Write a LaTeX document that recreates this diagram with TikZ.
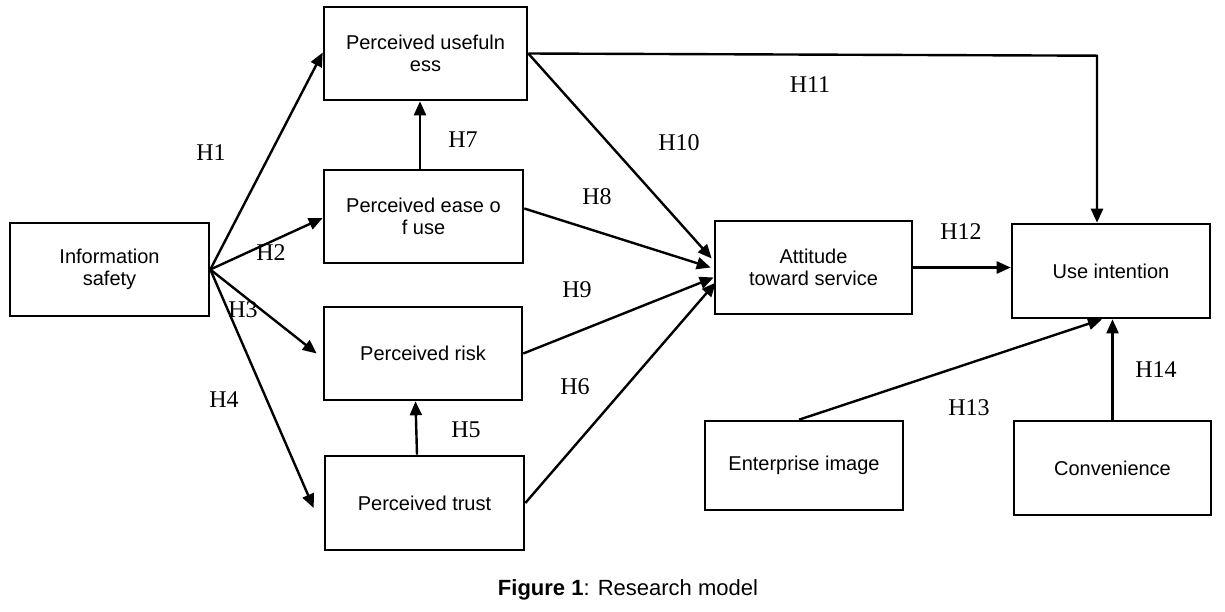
\documentclass[tikz,border=0pt]{standalone}
\usepackage{fontspec}
\setmainfont{Liberation Serif}
\newfontfamily\boxfont{Liberation Sans}
\usetikzlibrary{arrows.meta,calc}
\begin{document}
\begin{tikzpicture}[x=1pt,y=1pt,
  box/.style={draw,line width=2.6pt,inner sep=0pt,align=center,
    font=\boxfont\fontsize{20}{22}\selectfont},
  conn/.style={line width=2.4pt,-{Triangle[length=14pt,width=12pt]}},
  hlab/.style={font=\fontsize{24}{26}\selectfont,inner sep=0pt}]
\useasboundingbox (0,0) rectangle (1225,-611);
\fill[white] (0,0) rectangle (1225,-611);
% boxes
\node[box,minimum width=199pt,minimum height=93pt] (info) at (109.5,-269.5) {Information\\safety};
\node[box,minimum width=203pt,minimum height=93pt] (pu) at (425.5,-53.5) {Perceived usefuln\\ess};
\node[box,minimum width=199pt,minimum height=93pt] (peou) at (423.5,-216.5) {Perceived ease o\\f use};
\node[box,minimum width=198pt,minimum height=93pt] (risk) at (423,-353.5) {Perceived risk};
\node[box,minimum width=199pt,minimum height=94pt] (trust) at (424.5,-503) {Perceived trust};
\node[box,minimum width=197pt,minimum height=93pt] (att) at (813.5,-267.5) {Attitude\\toward service};
\node[box,minimum width=198pt,minimum height=94pt] (use) at (1111,-271) {Use intention};
\node[box,minimum width=198pt,minimum height=89pt] (ent) at (804,-465.5) {Enterprise image};
\node[box,minimum width=197pt,minimum height=94pt] (conv) at (1112.5,-468) {Convenience};
% connectors
\draw[conn] (info.east) -- ([yshift=1pt]pu.west);
\draw[conn] (info.east) -- ([yshift=-1.5pt]peou.west);
\draw[conn] (info.east) -- ([xshift=-6pt]risk.west);
\draw[conn] (info.east) -- ([xshift=-10pt,yshift=-5pt]trust.west);
\draw[conn] ([xshift=-7.5pt]trust.north) -- ([xshift=-7.5pt]risk.south);
\draw[conn] ([xshift=-3.5pt]peou.north) -- ([xshift=-5.5pt]pu.south);
\draw[conn] (pu.east) -- ([xshift=-2pt,yshift=9pt]att.west);
\draw[conn] ([yshift=8pt]peou.east) -- ([xshift=-3pt]att.west);
\draw[conn] (risk.east) -- ([xshift=0pt,yshift=-10pt]att.west);
\draw[conn] (trust.east) -- ([xshift=2pt,yshift=-15pt]att.west);
\draw[conn] (pu.east) -- ([xshift=-14pt,yshift=167pt]use.north) -- ([xshift=-14pt]use.north);
\draw[conn] (att.east) -- (att.east -| use.west);
\draw[conn] ([xshift=-5pt]ent.north) -- ([xshift=-9pt]use.south);
\draw[conn] (conv.north) -- (conv.north |- use.south);
% labels
\node[hlab] (h1) at (211,-153) {H1};
\node[hlab] (h2) at (271,-253) {H2};
\node[hlab] (h3) at (243,-310) {H3};
\node[hlab] (h4) at (224,-400) {H4};
\node[hlab] (h5) at (466,-430) {H5};
\node[hlab] (h6) at (575,-387) {H6};
\node[hlab] (h7) at (463,-140) {H7};
\node[hlab] (h8) at (597,-197) {H8};
\node[hlab] (h9) at (577,-290) {H9};
\node[hlab] (h10) at (679,-143) {H10};
\node[hlab] (h11) at (810,-85) {H11};
\node[hlab] (h12) at (961,-232) {H12};
\node[hlab] (h13) at (969,-408) {H13};
\node[hlab] (h14) at (1156,-370) {H14};
% caption
\node[font=\boxfont\fontsize{22}{24}\selectfont,inner sep=0pt] (cap) at (628,-590) {\textbf{Figure 1}: Research model};
\end{tikzpicture}
\end{document}
